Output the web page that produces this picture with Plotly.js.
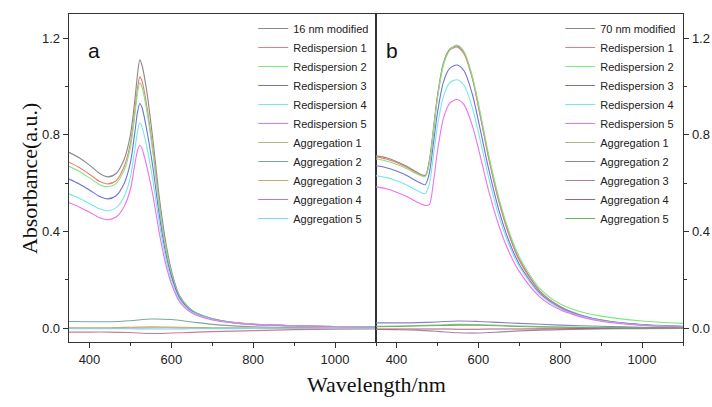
<!DOCTYPE html>
<html>
<head>
<meta charset="utf-8">
<script src="https://cdn.plot.ly/plotly-3.0.1.min.js"></script>
<style>html,body{margin:0;padding:0;background:#fff;}#chart{width:712px;height:407px;}</style>
</head>
<body>
<div id="chart"></div>
<script>
// ---------- Data ----------
// Panel a (16 nm)
const waveA = [350,375,400,425,445,465,485,500,510,518,523,528,540,555,570,585,600,620,650,700,750,800,900,1000,1100];
const a_modified = [0.728,0.705,0.675,0.640,0.626,0.640,0.700,0.800,0.930,1.060,1.110,1.090,0.980,0.780,0.550,0.370,0.240,0.135,0.075,0.040,0.025,0.017,0.010,0.007,0.005];
const a_redisp1 = [0.687,0.665,0.637,0.607,0.597,0.610,0.670,0.765,0.890,1.000,1.040,1.025,0.920,0.740,0.520,0.350,0.230,0.130,0.072,0.038,0.024,0.016,0.010,0.007,0.005];
const a_redisp2 = [0.670,0.649,0.622,0.594,0.585,0.598,0.655,0.748,0.870,0.980,1.015,1.000,0.900,0.725,0.515,0.345,0.228,0.130,0.072,0.038,0.024,0.016,0.010,0.007,0.005];
const a_redisp3 = [0.617,0.597,0.572,0.545,0.535,0.548,0.600,0.685,0.800,0.900,0.930,0.915,0.820,0.665,0.475,0.320,0.215,0.125,0.070,0.037,0.023,0.016,0.010,0.007,0.005];
const a_redisp4 = [0.556,0.538,0.516,0.494,0.486,0.498,0.545,0.625,0.730,0.820,0.850,0.835,0.750,0.610,0.440,0.300,0.200,0.118,0.067,0.036,0.023,0.016,0.010,0.007,0.005];
const a_redisp5 = [0.519,0.502,0.480,0.457,0.449,0.460,0.505,0.575,0.670,0.740,0.756,0.745,0.670,0.550,0.400,0.275,0.185,0.110,0.063,0.034,0.022,0.015,0.010,0.006,0.004];

const waveAgg = [350,400,450,500,550,600,650,700,800,900,1000,1100];
const a_agg1 = [0.002,0.002,0.002,0.004,0.006,0.005,0.003,0.002,0.001,0.001,0.000,0.000];
const a_agg2 = [0.028,0.027,0.027,0.031,0.038,0.036,0.026,0.016,0.006,0.003,0.001,0.000];
const a_agg3 = [0.000,0.000,0.000,0.001,0.002,0.002,0.001,0.000,0.000,0.000,0.000,0.000];
const a_agg4 = [-0.016,-0.016,-0.016,-0.018,-0.022,-0.020,-0.017,-0.014,-0.010,-0.006,-0.004,-0.003];
const a_agg5 = [-0.002,-0.002,-0.002,-0.002,-0.003,-0.003,-0.002,-0.002,-0.001,0.000,0.000,0.000];

// Panel b (70 nm)
const waveB = [350,375,400,425,450,470,480,490,500,515,530,548,565,585,605,625,650,675,700,750,800,850,900,1000,1100];
const b_modified = [0.713,0.705,0.690,0.670,0.645,0.632,0.690,0.820,0.960,1.100,1.155,1.168,1.140,1.040,0.880,0.710,0.530,0.390,0.285,0.155,0.090,0.055,0.035,0.015,0.008];
const b_redisp1 = [0.710,0.700,0.686,0.666,0.642,0.630,0.685,0.815,0.955,1.095,1.150,1.163,1.135,1.035,0.875,0.705,0.525,0.385,0.280,0.152,0.088,0.053,0.033,0.014,0.007];
const b_redisp2 = [0.700,0.692,0.678,0.660,0.638,0.627,0.680,0.810,0.950,1.090,1.150,1.172,1.145,1.045,0.890,0.720,0.540,0.400,0.295,0.165,0.100,0.068,0.050,0.030,0.020];
const b_redisp3 = [0.672,0.664,0.650,0.632,0.608,0.594,0.640,0.760,0.890,1.020,1.075,1.089,1.065,0.970,0.820,0.660,0.490,0.360,0.265,0.145,0.085,0.052,0.032,0.014,0.007];
const b_redisp4 = [0.631,0.623,0.610,0.593,0.570,0.557,0.595,0.710,0.835,0.960,1.015,1.028,1.005,0.915,0.775,0.625,0.465,0.345,0.255,0.140,0.082,0.050,0.031,0.013,0.007];
const b_redisp5 = [0.585,0.577,0.563,0.545,0.522,0.508,0.510,0.600,0.730,0.870,0.930,0.946,0.925,0.840,0.710,0.570,0.425,0.315,0.235,0.130,0.076,0.047,0.029,0.012,0.006];

const b_agg1 = [0.008,0.009,0.011,0.013,0.016,0.015,0.012,0.009,0.005,0.003,0.002,0.001];
const b_agg2 = [0.022,0.022,0.023,0.026,0.030,0.028,0.024,0.020,0.013,0.008,0.004,0.002];
const b_agg3 = [-0.005,-0.006,-0.008,-0.013,-0.019,-0.020,-0.016,-0.011,-0.006,-0.003,-0.002,-0.001];
const b_agg4 = [-0.003,-0.003,-0.003,-0.003,-0.004,-0.004,-0.003,-0.003,-0.002,-0.001,0.000,0.000];
const b_agg5 = [0.006,0.007,0.009,0.011,0.013,0.012,0.010,0.007,0.004,0.002,0.001,0.000];

const namesA = ['16 nm modified','Redispersion 1','Redispersion 2','Redispersion 3','Redispersion 4','Redispersion 5','Aggregation 1','Aggregation 2','Aggregation 3','Aggregation 4','Aggregation 5'];
const namesB = ['70 nm modified','Redispersion 1','Redispersion 2','Redispersion 3','Redispersion 4','Redispersion 5','Aggregation 1','Aggregation 2','Aggregation 3','Aggregation 4','Aggregation 5'];
const colorsA = ['#8a8a8a','#f07a7a','#7ee87e','#7070dc','#7ae6e6','#f070f0','#b4b47e','#78a8a0','#d2a868','#d47890','#7ad8f0'];
const colorsB = ['#8a8a8a','#f07a7a','#7ee87e','#7070dc','#7ae6e6','#f070f0','#b4b48c','#8484c4','#a884a4','#a46474','#64b464'];

const seriesA = [a_modified,a_redisp1,a_redisp2,a_redisp3,a_redisp4,a_redisp5,a_agg1,a_agg2,a_agg3,a_agg4,a_agg5];
const seriesB = [b_modified,b_redisp1,b_redisp2,b_redisp3,b_redisp4,b_redisp5,b_agg1,b_agg2,b_agg3,b_agg4,b_agg5];

// ---------- Traces ----------
const traces = [];
seriesA.forEach((ys, i) => {
  traces.push({
    x: i < 6 ? waveA : waveAgg, y: ys, name: namesA[i], type: 'scatter', mode: 'lines',
    line: {color: colorsA[i], width: 1.1, shape: 'spline', smoothing: 0.8},
    xaxis: 'x', yaxis: 'y', legend: 'legend'
  });
});
seriesB.forEach((ys, i) => {
  traces.push({
    x: i < 6 ? waveB : waveAgg, y: ys, name: namesB[i], type: 'scatter', mode: 'lines',
    line: {color: colorsB[i], width: 1.1, shape: 'spline', smoothing: 0.8},
    xaxis: 'x2', yaxis: 'y2', legend: 'legend2'
  });
});

const tickFont = {family: 'Liberation Sans, Arial, sans-serif', size: 13, color: '#222'};
const axCommon = {
  showline: true, mirror: true, linecolor: '#333', linewidth: 1.3,
  ticks: 'outside', ticklen: 5, tickwidth: 1, tickcolor: '#333',
  showgrid: false, zeroline: false, tickfont: tickFont, fixedrange: true
};
const xCommon = Object.assign({}, axCommon, {
  range: [350, 1100], tick0: 0, dtick: 200,
  minor: {ticks: 'outside', dtick: 100, ticklen: 3, tickcolor: '#333', showgrid: false}
});
const yCommon = Object.assign({}, axCommon, {
  range: [-0.057, 1.3], tick0: 0, dtick: 0.4, tickformat: '.1f',
  minor: {ticks: 'outside', dtick: 0.2, ticklen: 3, tickcolor: '#333', showgrid: false}
});

const legendCommon = {
  yanchor: 'top', xanchor: 'left', y: 1.0, bgcolor: 'rgba(0,0,0,0)',
  font: {family: 'Liberation Sans, Arial, sans-serif', size: 11, color: '#222'}
};

const layout = {
  width: 712, height: 407,
  margin: {l: 69, r: 29, t: 14, b: 65},
  paper_bgcolor: '#fff', plot_bgcolor: '#fff',
  xaxis: Object.assign({}, xCommon, {domain: [0, 0.5], anchor: 'y'}),
  yaxis: Object.assign({}, yCommon, {anchor: 'x', side: 'left'}),
  xaxis2: Object.assign({}, xCommon, {domain: [0.5, 1], anchor: 'y2'}),
  yaxis2: Object.assign({}, yCommon, {anchor: 'x2', side: 'right'}),
  legend: Object.assign({}, legendCommon, {x: 0.30}),
  legend2: Object.assign({}, legendCommon, {x: 0.80}),
  showlegend: true,
  annotations: [
    {text: 'a', xref: 'paper', yref: 'paper', x: 0.028, y: 0.93, showarrow: false,
     font: {family: 'Liberation Sans, Arial, sans-serif', size: 21, color: '#111'}},
    {text: 'b', xref: 'paper', yref: 'paper', x: 0.526, y: 0.93, showarrow: false,
     font: {family: 'Liberation Sans, Arial, sans-serif', size: 21, color: '#111'}},
    {text: 'Wavelength/nm', xref: 'paper', yref: 'paper', x: 0.5, y: -0.131, yanchor: 'middle',
     showarrow: false, font: {family: 'Liberation Serif, Times New Roman, serif', size: 22, color: '#111'}},
    {text: 'Absorbance(a.u.)', xref: 'paper', yref: 'paper', x: -0.065, y: 0.5, textangle: -90,
     xanchor: 'center', yanchor: 'middle', showarrow: false,
     font: {family: 'Liberation Serif, Times New Roman, serif', size: 22, color: '#111'}}
  ]
};

Plotly.newPlot('chart', traces, layout, {displayModeBar: false, staticPlot: true});
</script>
</body>
</html>
